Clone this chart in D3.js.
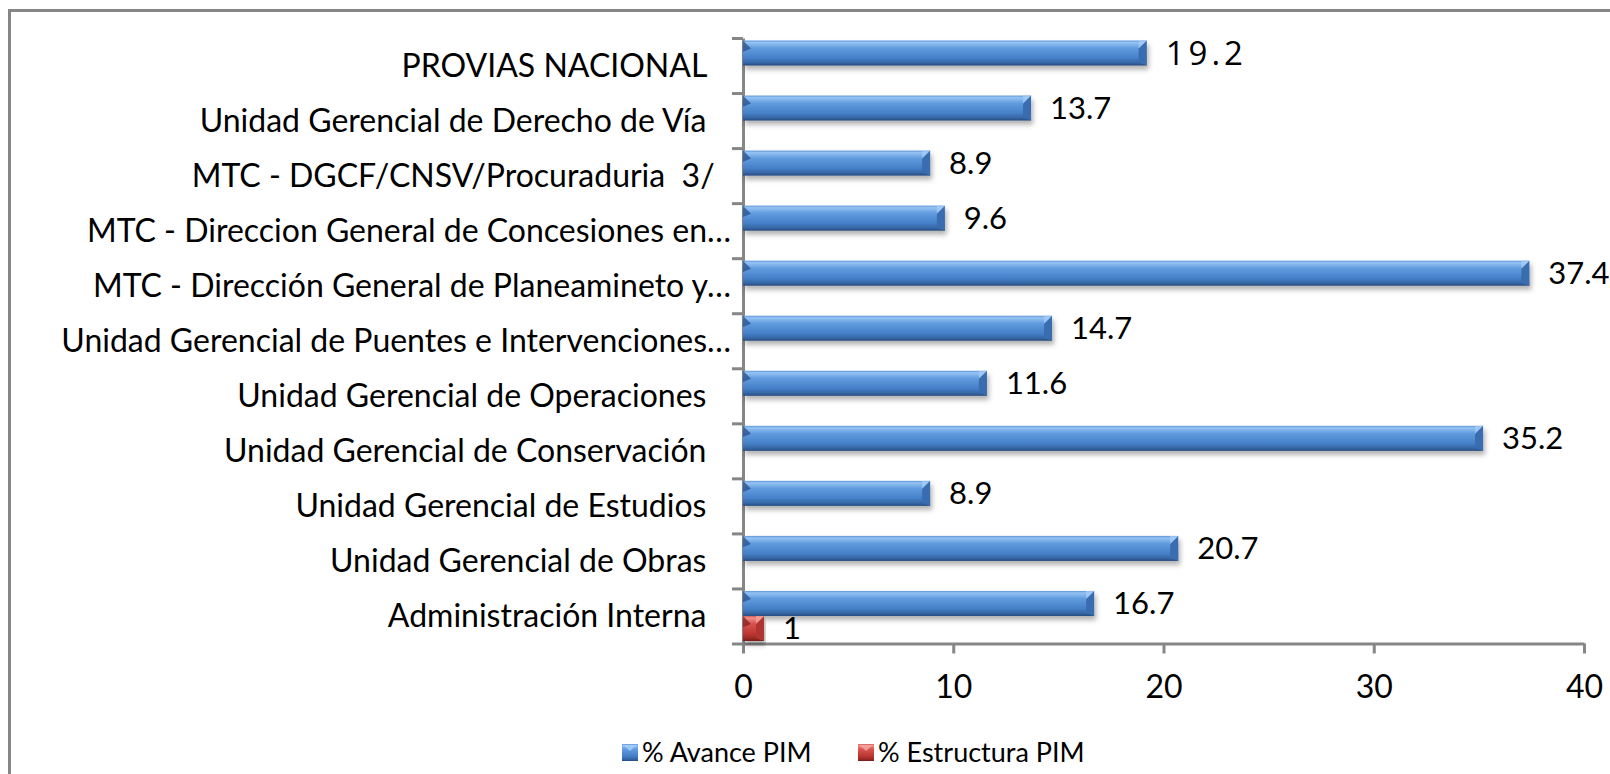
<!DOCTYPE html>
<meta charset="utf-8">
<style>

body {
  margin: 0;
  background: #fff;
}

text {
  font-family: Lato, "Open Sans", sans-serif;
  fill: #000;
}

.cat {
  font-size: 32px;
  white-space: pre;
}

.axis path,
.axis line {
  stroke: #868686;
  stroke-width: 3px;
}

.axis text {
  font-family: Lato, sans-serif;
  font-size: 32px;
  fill: #000;
}

.value {
  font-size: 31px;
}

.value.wide {
  font-family: "Open Sans", sans-serif;
  font-size: 33px;
  letter-spacing: 4px;
}

.legend text {
  font-size: 27px;
}

</style>
<svg width="1610" height="774"></svg>
<script src="https://d3js.org/d3.v7.min.js"></script>
<script>

// categories from top to bottom, as in the chart
var categories = [
  "PROVIAS NACIONAL   ",
  "Unidad Gerencial de Derecho de Vía   ",
  "MTC - DGCF/CNSV/Procuraduria  3/  ",
  "MTC - Direccion General de Concesiones en…",
  "MTC - Dirección General de Planeamineto y…",
  "Unidad Gerencial de Puentes e Intervenciones…",
  "Unidad Gerencial de Operaciones   ",
  "Unidad Gerencial de Conservación   ",
  "Unidad Gerencial de Estudios   ",
  "Unidad Gerencial de Obras   ",
  "Administración Interna   "
];

var avancePIM = [19.2, 13.7, 8.9, 9.6, 37.4, 14.7, 11.6, 35.2, 8.9, 20.7, 16.7];
var estructuraPIM = [null, null, null, null, null, null, null, null, null, null, 1];

var seriesNames = ["% Avance PIM", "% Estructura PIM"];
var xTicks = [0, 10, 20, 30, 40];

var svg = d3.select("svg"),
    width = +svg.attr("width"),
    height = +svg.attr("height");

var defs = svg.append("defs");

function barGradient(id, stops) {
  var g = defs.append("linearGradient")
      .attr("id", id)
      .attr("x1", 0).attr("y1", 0)
      .attr("x2", 0).attr("y2", 1);
  stops.forEach(function(s) {
    g.append("stop").attr("offset", s[0]).attr("stop-color", s[1]);
  });
}

barGradient("blueGrad", [[0, "#5c94d9"], [0.08, "#95c3f3"], [0.3, "#629cdf"], [0.7, "#4580c8"], [0.9, "#3565a3"], [1, "#264a7c"]]);
barGradient("redGrad", [[0, "#d45a55"], [0.08, "#ef8f8a"], [0.3, "#d9534f"], [0.7, "#bd3733"], [0.9, "#992824"], [1, "#731b18"]]);

var shadow = defs.append("filter")
    .attr("id", "shadow")
    .attr("x", "-5%").attr("y", "-30%")
    .attr("width", "110%").attr("height", "170%");
shadow.append("feDropShadow")
    .attr("dx", 2).attr("dy", 4)
    .attr("stdDeviation", 2.5)
    .attr("flood-color", "#000")
    .attr("flood-opacity", 0.3);

var colors = {
  "% Avance PIM": {fill: "url(#blueGrad)", dark: "#2c5591", light: "#a8cdf5", end: "#3a6cb0"},
  "% Estructura PIM": {fill: "url(#redGrad)", dark: "#8a2320", light: "#f3a7a3", end: "#b03430"}
};

// outer frame
svg.append("rect")
    .attr("x", 9.5)
    .attr("y", 10.5)
    .attr("width", width + 40)
    .attr("height", height + 40)
    .attr("fill", "none")
    .attr("stroke", "#868686")
    .attr("stroke-width", 3);

var x = d3.scaleLinear()
    .domain([0, 40])
    .range([743, 1584]);

var y = d3.scaleBand()
    .domain(categories)
    .range([38, 643.5]);

var ySub = d3.scaleBand()
    .domain(seriesNames)
    .range([0, y.bandwidth()])
    .paddingOuter(0.1);

// y axis with ticks on the category boundaries
var yEdges = d3.scaleLinear()
    .domain([0, categories.length])
    .range(y.range());

svg.append("g")
    .attr("class", "axis")
    .attr("transform", "translate(" + x(0) + ",0)")
    .call(d3.axisLeft(yEdges)
        .tickValues(d3.range(categories.length + 1))
        .tickFormat("")
        .tickSize(11)
        .tickSizeOuter(0));

var xAxis = svg.append("g")
    .attr("class", "axis")
    .attr("transform", "translate(0," + y.range()[1] + ")")
    .call(d3.axisBottom(x)
        .tickValues(xTicks)
        .tickSize(10)
        .tickSizeOuter(0));

xAxis.selectAll("text")
    .attr("y", 54.5)
    .attr("dy", null);

// category labels
svg.append("g")
  .selectAll("text")
  .data(categories)
  .enter().append("text")
    .attr("class", "cat")
    .attr("x", 731)
    .attr("y", function(d) { return y(d) + y.bandwidth() / 2; })
    .attr("dy", "0.35em")
    .attr("text-anchor", "end")
    .text(function(d) { return d; });

var rows = [];
categories.forEach(function(c, i) {
  rows.push({cat: c, series: seriesNames[0], value: avancePIM[i], idx: i});
  if (estructuraPIM[i] != null) rows.push({cat: c, series: seriesNames[1], value: estructuraPIM[i], idx: i});
});

var bar = svg.append("g")
  .selectAll("g")
  .data(rows)
  .enter().append("g")
    .attr("transform", function(d) {
      return "translate(" + x(0) + "," + (y(d.cat) + ySub(d.series)) + ")";
    });

var bh = ySub.bandwidth();

bar.append("rect")
    .attr("width", function(d) { return x(d.value) - x(0); })
    .attr("height", bh)
    .attr("fill", function(d) { return colors[d.series].fill; })
    .attr("filter", "url(#shadow)");

// bevelled ends
var bev = 8;
bar.append("path")
    .attr("fill", function(d) { return colors[d.series].dark; })
    .attr("opacity", 0.8)
    .attr("d", function(d) {
      return "M0,0L" + bev + "," + bev + "L0," + (bh * 0.45) + "Z";
    });

bar.append("path")
    .attr("fill", function(d) { return colors[d.series].end; })
    .attr("d", function(d) {
      var w = x(d.value) - x(0);
      return "M" + (w - bev) + "," + bev + "L" + w + ",0L" + w + "," + bh + "L" + (w - bev) + "," + (bh - 3) + "Z";
    });

bar.append("path")
    .attr("fill", function(d) { return colors[d.series].light; })
    .attr("opacity", 0.7)
    .attr("d", function(d) {
      var w = x(d.value) - x(0);
      return "M" + (w - bev) + ",0L" + w + ",0L" + (w - bev) + "," + bev + "Z";
    });

// value labels
bar.append("text")
    .attr("class", function(d) { return d.idx === 0 ? "value wide" : "value"; })
    .attr("x", function(d) { return x(d.value) - x(0) + 19; })
    .attr("y", bh / 2)
    .attr("dy", "0.35em")
    .text(function(d) { return d.value; });

// legend
var legendX = [622, 858];
var legend = svg.append("g")
    .attr("class", "legend")
  .selectAll("g")
  .data(seriesNames)
  .enter().append("g")
    .attr("transform", function(d, i) { return "translate(" + legendX[i] + ",744)"; });

legend.append("rect")
    .attr("width", 16)
    .attr("height", 17)
    .attr("fill", function(d) { return colors[d].fill; });

legend.append("path")
    .attr("fill", function(d) { return colors[d].light; })
    .attr("opacity", 0.8)
    .attr("d", "M1,1L15,1L8,7Z");

legend.append("text")
    .attr("x", 20)
    .attr("y", 8.5)
    .attr("dy", "0.35em")
    .text(function(d) { return d; });

</script>
